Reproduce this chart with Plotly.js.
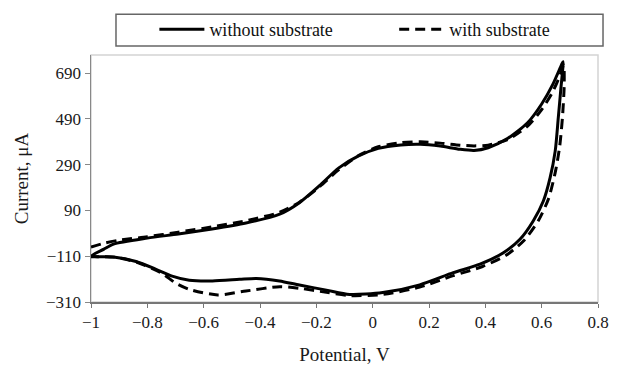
<!DOCTYPE html>
<html>
<head>
<meta charset="utf-8">
<script src="https://cdn.plot.ly/plotly-3.0.1.min.js"></script>
<style>
  html, body { margin: 0; padding: 0; background: #fff; }
  #cv { width: 621px; height: 367px; }
</style>
</head>
<body>
<div id="cv"></div>
<script>
// Cyclic voltammograms: forward sweep up to the switching potential, then back to -1 V
const potWithout = [
  -1.00, -0.954, -0.92, -0.80, -0.69, -0.57, -0.45, -0.33, -0.26, -0.19, -0.12, -0.05,
  0.02, 0.10, 0.17, 0.24, 0.31, 0.36, 0.41, 0.48, 0.55, 0.60, 0.64, 0.67, 0.676,
  0.668, 0.659, 0.648, 0.630, 0.606, 0.570, 0.523, 0.464, 0.381, 0.286, 0.167, 0.036,
  -0.082, -0.164, -0.26, -0.331, -0.413, -0.473, -0.569, -0.651, -0.712, -0.769, -0.840,
  -0.92, -1.00
];
const curWithout = [
  -110, -79, -57, -31, -13, 9, 35, 74, 124, 197, 276, 328,
  361, 376, 379, 371, 357, 352, 364, 405, 473, 555, 642, 725, 740,
  620, 495, 349, 233, 131, 44, -36, -95, -145, -182, -235, -269,
  -277, -258, -236, -218, -207, -211, -218, -215, -197, -167, -133,
  -113, -110
];

const potWith = [
  -1.00, -0.95, -0.90, -0.80, -0.69, -0.57, -0.45, -0.33, -0.26, -0.19, -0.12, -0.05,
  0.02, 0.10, 0.17, 0.24, 0.31, 0.36, 0.41, 0.48, 0.55, 0.60, 0.64, 0.665, 0.678,
  0.680, 0.674, 0.664, 0.648, 0.624, 0.588, 0.538, 0.475, 0.390, 0.286, 0.167, 0.036,
  -0.082, -0.164, -0.26, -0.33, -0.45, -0.55, -0.65, -0.70, -0.75, -0.84,
  -0.92, -1.00
];
const curWith = [
  -70, -52, -40, -25, -5, 18, 45, 82, 126, 192, 268, 330,
  368, 386, 390, 384, 375, 372, 375, 400, 458, 530, 610, 680, 725,
  640, 500, 370, 255, 140, 45, -40, -105, -155, -195, -245, -277,
  -282, -268, -250, -243, -262, -279, -255, -227, -183, -135,
  -114, -112
];

const currentTicks = [-310, -110, 90, 290, 490, 690];
const seriesNames = ['without substrate', 'with substrate'];

const serif = 'Liberation Serif, Times New Roman, serif';
const ink = '#1a1a1a';

const traces = [
  {
    x: potWithout, y: curWithout, name: seriesNames[0], legend: 'legend',
    type: 'scatter', mode: 'lines',
    line: { color: '#000', width: 3, shape: 'spline', smoothing: 0.7 }
  },
  {
    x: potWith, y: curWith, name: seriesNames[1], legend: 'legend2',
    type: 'scatter', mode: 'lines',
    line: { color: '#000', width: 3, dash: '10px,6px', shape: 'spline', smoothing: 0.7 }
  }
];

// one legend per series so both entries sit on a single row inside the box
const legendBase = {
  orientation: 'h', xanchor: 'left', y: 1.173, yanchor: 'top',
  bgcolor: 'rgba(0,0,0,0)', borderwidth: 0, itemwidth: 45,
  font: { family: serif, size: 18, color: '#111' },
  itemclick: false, itemdoubleclick: false
};

const layout = {
  width: 621, height: 367,
  margin: { l: 91, r: 23, t: 54, b: 65 },
  paper_bgcolor: '#fff', plot_bgcolor: '#fff',
  font: { family: serif, size: 17, color: ink },
  showlegend: true,
  legend: Object.assign({}, legendBase, { x: 0.125 }),
  legend2: Object.assign({}, legendBase, { x: 0.598 }),
  xaxis: {
    range: [-1, 0.8], tick0: -1, dtick: 0.2,
    showgrid: false, zeroline: false,
    showline: true, linecolor: '#777', linewidth: 1.5,
    ticks: 'outside', ticklen: 4, tickcolor: '#777', tickwidth: 1,
    tickfont: { family: serif, size: 17, color: ink },
    title: { text: 'Potential, V', font: { family: serif, size: 19, color: ink }, standoff: 17 },
    automargin: false, fixedrange: true
  },
  yaxis: {
    range: [-310, 769], tickvals: currentTicks,
    showgrid: false, zeroline: false,
    showline: true, linecolor: '#888', linewidth: 1.5,
    ticks: 'outside', ticklen: 5, tickcolor: '#888', tickwidth: 1,
    tickfont: { family: serif, size: 17, color: ink },
    title: { text: 'Current, μA', font: { family: serif, size: 19, color: ink }, standoff: 12 },
    automargin: false, fixedrange: true
  },
  shapes: [
    // light frame round the plotting area
    { type: 'rect', xref: 'paper', yref: 'paper', x0: 0, x1: 1, y0: 0, y1: 1,
      line: { color: '#d4d4d4', width: 1.5 }, layer: 'below' },
    // legend box
    { type: 'rect', xref: 'paper', yref: 'paper', x0: 0.0493, x1: 1.0099, y0: 1.036, y1: 1.165,
      line: { color: '#666', width: 1.5 } }
  ]
};

Plotly.newPlot('cv', traces, layout, { displayModeBar: false, staticPlot: true });
</script>
</body>
</html>
